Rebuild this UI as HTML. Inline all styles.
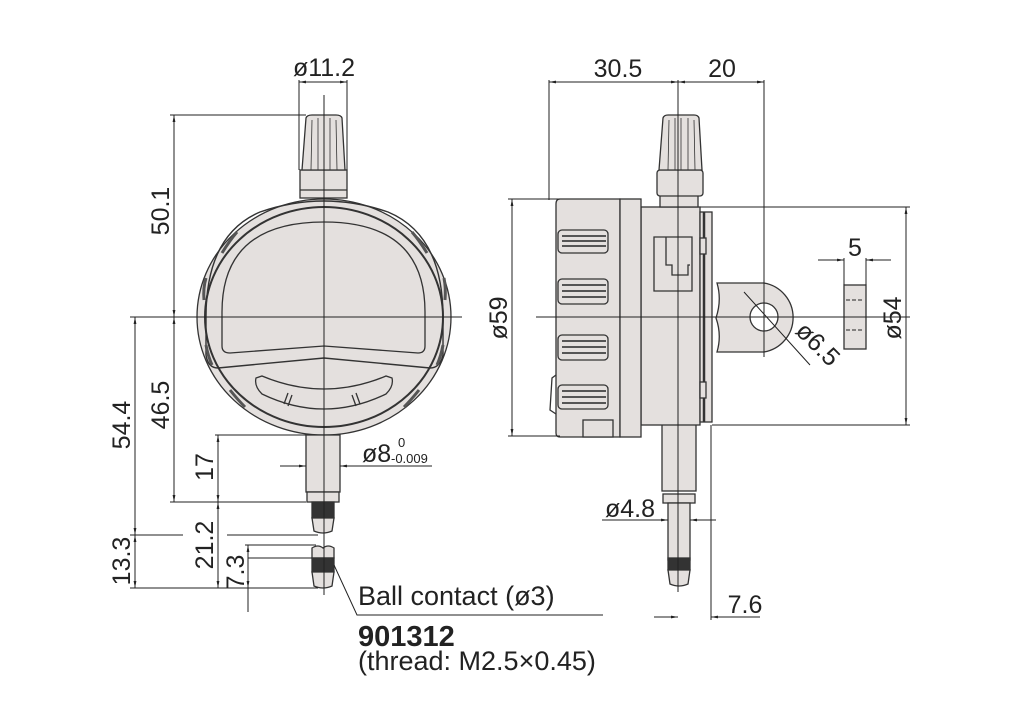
<!DOCTYPE html>
<html><head><meta charset="utf-8"><style>
html,body{margin:0;padding:0;background:#fff;width:1024px;height:728px;overflow:hidden}
svg{display:block}
text{font-family:"Liberation Sans",sans-serif;fill:#222}
</style></head><body>
<svg width="1024" height="728" viewBox="0 0 1024 728" xmlns="http://www.w3.org/2000/svg">
<defs>
<marker id="a" viewBox="0 0 10 10" refX="10" refY="5" markerWidth="7" markerHeight="7" orient="auto-start-reverse"><path d="M0,3 L10,5 L0,7 z" fill="#222"/></marker>
</defs>
<g stroke="#333" stroke-width="1.3" fill="#e4e0de">
<!-- LEFT VIEW -->
<ellipse cx="324" cy="317" rx="127" ry="118"/>
<ellipse cx="324" cy="317" rx="119" ry="110" fill="none" stroke-width="2"/>
<path d="M206,317 Q206,235 260,212 Q324,190 388,212 Q443,235 443,317 L443,355 Q440,368 430,368 L324,358 L218,368 Q208,368 206,355 Z" fill="none" stroke-width="1.4"/>
<path d="M222,312 Q222,222 324,222 Q425,222 425,312 L425,346 Q425,353 418,353 L324,346 L230,353 Q222,353 222,346 Z" fill="none"/>
<path d="M256,378 L262,376 Q324,402 386,376 L392,378 Q394,386 386,394 Q324,424 262,394 Q254,386 256,378 Z" fill="none"/>
<path d="M288,393 L284,404 M292,395 L288,406 M356,393 L360,404 M352,395 L356,406" fill="none"/>
<g stroke-width="3" stroke="#555" fill="none">
<path d="M222,253 Q230,240 237,232"/><path d="M204,300 Q203,288 206,278"/><path d="M206,345 Q208,356 212,365"/><path d="M230,390 Q238,400 245,407"/>
<path d="M412,232 Q419,240 427,253"/><path d="M444,278 Q446,288 445,300"/><path d="M437,365 Q441,356 443,345"/><path d="M404,407 Q411,400 419,390"/>
</g>
<!-- knob -->
<rect x="300" y="170" width="47" height="28"/>
<line x1="300" y1="190" x2="347" y2="190"/>
<path d="M302,170 L306,118 Q307,115 312,115 L336,115 Q341,115 342,118 L345,170 Z"/>
<path d="M311,170 L312,120 M318,170 L318,118 M324,170 L324,118 M330,170 L330,118 M337,170 L336,120" fill="none" stroke-width="0.8"/>
<!-- stem -->
<rect x="306" y="435" width="34" height="57"/>
<rect x="307" y="492" width="32" height="10"/>
<rect x="312" y="502" width="22" height="16" fill="#333"/>
<path d="M312,518 L334,518 L332,531 Q323,535 314,531 Z"/>
<path d="M312,548 Q318,544 323,548 Q328,544 334,548 L334,558 L312,558 Z"/>
<rect x="312" y="558" width="22" height="14" fill="#333"/>
<path d="M312,572 L334,572 L332,586 Q323,590 314,586 Z"/>

<!-- RIGHT VIEW -->
<rect x="662" y="420" width="34" height="71"/>
<rect x="641" y="207" width="59" height="218"/>
<rect x="700" y="212" width="12" height="210"/>
<line x1="704" y1="212" x2="704" y2="422" stroke-width="2.5"/>
<path d="M560,199 L620,199 L620,437 L560,437 Q556,437 556,433 L556,204 Q556,199 560,199 Z"/>
<rect x="620" y="199" width="21" height="238"/>
<path d="M556,375 L552,378 L550,410 L556,414" fill="none"/>
<rect x="583" y="420" width="30" height="17"/>
<g fill="#e4e0de">
<rect x="558" y="230" width="50" height="23" rx="4"/><rect x="558" y="279" width="50" height="25" rx="4"/><rect x="558" y="335" width="50" height="25" rx="4"/><rect x="558" y="385" width="50" height="24" rx="4"/>
</g>
<g stroke-width="2" stroke="#555" fill="none">
<path d="M562,236H606M562,241H606M562,246H606M562,285H606M562,291H606M562,297H606M562,341H606M562,347H606M562,353H606M562,391H606M562,397H606M562,403H606"/>
</g>
<path d="M654,237 L692,237 L692,291 L654,291 Z M666,237 L666,265 L672,265 L672,275 L688,275 L688,265 L690,265" fill="none"/>
<rect x="700" y="238" width="6" height="16"/><rect x="700" y="382" width="6" height="16"/>
<!-- knob right -->
<rect x="660" y="195" width="38" height="12"/>
<rect x="657" y="170" width="46" height="26" rx="3"/>
<path d="M659,170 L663,118 Q664,115 668,115 L694,115 Q698,115 699,118 L702,170 Z"/>
<path d="M668,170 L669,120 M675,170 L675,118 M681,170 L681,118 M688,170 L688,118 M695,170 L694,120" fill="none" stroke-width="0.8"/>
<!-- stem right -->
<rect x="663" y="494" width="32" height="9"/>
<rect x="668" y="503" width="22" height="57"/>
<rect x="668" y="558" width="22" height="12" fill="#333"/>
<path d="M668,570 L690,570 L688,584 Q679,588 670,584 Z"/>
<!-- lug -->
<path d="M717,283 L764,283 A35,35 0 0 1 764,352 L717,352 Q722,335 716,318 Q722,300 717,283 Z"/>
<circle cx="764" cy="317" r="14" fill="#fff"/>
<rect x="844" y="285" width="22" height="64"/>
</g>

<g stroke="#222" stroke-width="1" fill="none">
<line x1="130" y1="317" x2="462" y2="317"/>
<line x1="324" y1="95" x2="324" y2="595"/>
<line x1="536" y1="317" x2="910" y2="317"/>
<line x1="678" y1="80" x2="678" y2="592"/>
<line x1="764" y1="80" x2="764" y2="357"/>
<line x1="549" y1="80" x2="549" y2="200"/>
<path d="M846,300H864M846,330H864" stroke-dasharray="4,2"/>
<line x1="299" y1="80" x2="299" y2="170"/><line x1="347" y1="80" x2="347" y2="170"/>
<line x1="299" y1="82" x2="347" y2="82" marker-start="url(#a)" marker-end="url(#a)"/>
<line x1="549" y1="82" x2="678" y2="82" marker-start="url(#a)" marker-end="url(#a)"/>
<line x1="678" y1="82" x2="764" y2="82" marker-start="url(#a)" marker-end="url(#a)"/>
<line x1="170" y1="115" x2="306" y2="115"/>
<line x1="174" y1="115" x2="174" y2="317" marker-start="url(#a)" marker-end="url(#a)"/>
<line x1="174" y1="317" x2="174" y2="502" marker-start="url(#a)" marker-end="url(#a)"/>
<line x1="170" y1="502" x2="306" y2="502"/>
<line x1="135" y1="317" x2="135" y2="535" marker-start="url(#a)" marker-end="url(#a)"/>
<line x1="135" y1="535" x2="135" y2="588" marker-start="url(#a)" marker-end="url(#a)"/>
<line x1="130" y1="535" x2="183" y2="535"/><line x1="227" y1="535" x2="318" y2="535"/>
<line x1="130" y1="588" x2="318" y2="588"/>
<line x1="215" y1="435" x2="306" y2="435"/>
<line x1="218" y1="435" x2="218" y2="502" marker-start="url(#a)" marker-end="url(#a)"/>
<line x1="218" y1="502" x2="218" y2="588" marker-start="url(#a)" marker-end="url(#a)"/>
<line x1="245" y1="545" x2="316" y2="545"/>
<line x1="248" y1="558" x2="312" y2="558"/>
<line x1="248" y1="545" x2="248" y2="612"/>
<line x1="248" y1="575" x2="248" y2="545" marker-end="url(#a)"/>
<line x1="248" y1="575" x2="248" y2="588" marker-end="url(#a)"/>
<line x1="280" y1="466" x2="306" y2="466" marker-end="url(#a)"/>
<line x1="432" y1="466" x2="340" y2="466" marker-end="url(#a)"/>
<path d="M334,565 L357,615 L603,615"/>
<line x1="508" y1="199" x2="560" y2="199"/><line x1="508" y1="436" x2="560" y2="436"/>
<line x1="512" y1="199" x2="512" y2="436" marker-start="url(#a)" marker-end="url(#a)"/>
<line x1="700" y1="207" x2="910" y2="207"/><line x1="712" y1="425" x2="910" y2="425"/>
<line x1="906" y1="207" x2="906" y2="425" marker-start="url(#a)" marker-end="url(#a)"/>
<line x1="844" y1="258" x2="844" y2="285"/><line x1="866" y1="258" x2="866" y2="285"/>
<line x1="818" y1="260" x2="844" y2="260" marker-end="url(#a)"/>
<line x1="891" y1="260" x2="866" y2="260" marker-end="url(#a)"/>
<line x1="744" y1="292" x2="810" y2="365"/>
<line x1="602" y1="520" x2="668" y2="520" marker-end="url(#a)"/>
<line x1="716" y1="520" x2="690" y2="520" marker-end="url(#a)"/>
<line x1="711" y1="425" x2="711" y2="620"/>
<line x1="654" y1="617" x2="678" y2="617" marker-end="url(#a)"/>
<line x1="760" y1="617" x2="711" y2="617" marker-end="url(#a)"/>
</g>

<g font-size="25">
<text x="324" y="76" text-anchor="middle">ø11.2</text>
<text x="618" y="77" text-anchor="middle">30.5</text>
<text x="722" y="77" text-anchor="middle">20</text>
<text transform="translate(169,211) rotate(-90)" text-anchor="middle">50.1</text>
<text transform="translate(169,405) rotate(-90)" text-anchor="middle">46.5</text>
<text transform="translate(130,425) rotate(-90)" text-anchor="middle">54.4</text>
<text transform="translate(213,467) rotate(-90)" text-anchor="middle">17</text>
<text transform="translate(213,545) rotate(-90)" text-anchor="middle">21.2</text>
<text transform="translate(130,561) rotate(-90)" text-anchor="middle">13.3</text>
<text transform="translate(244,572) rotate(-90)" text-anchor="middle">7.3</text>
<text transform="translate(507,318) rotate(-90)" text-anchor="middle">ø59</text>
<text transform="translate(901,318) rotate(-90)" text-anchor="middle">ø54</text>
<text x="855" y="256" text-anchor="middle">5</text>
<text transform="translate(812,350) rotate(45)" text-anchor="middle">ø6.5</text>
<text x="630" y="517" text-anchor="middle">ø4.8</text>
<text x="745" y="613" text-anchor="middle">7.6</text>
<text x="362" y="462">ø8</text>
</g>
<text x="358" y="605" font-size="27">Ball contact (ø3)</text>
<text x="358" y="646" font-size="29" font-weight="bold">901312</text>
<text x="358" y="670" font-size="27">(thread: M2.5×0.45)</text>
<text x="398" y="447" font-size="13">0</text>
<text x="391" y="463" font-size="13">-0.009</text>
</svg>
</body></html>
